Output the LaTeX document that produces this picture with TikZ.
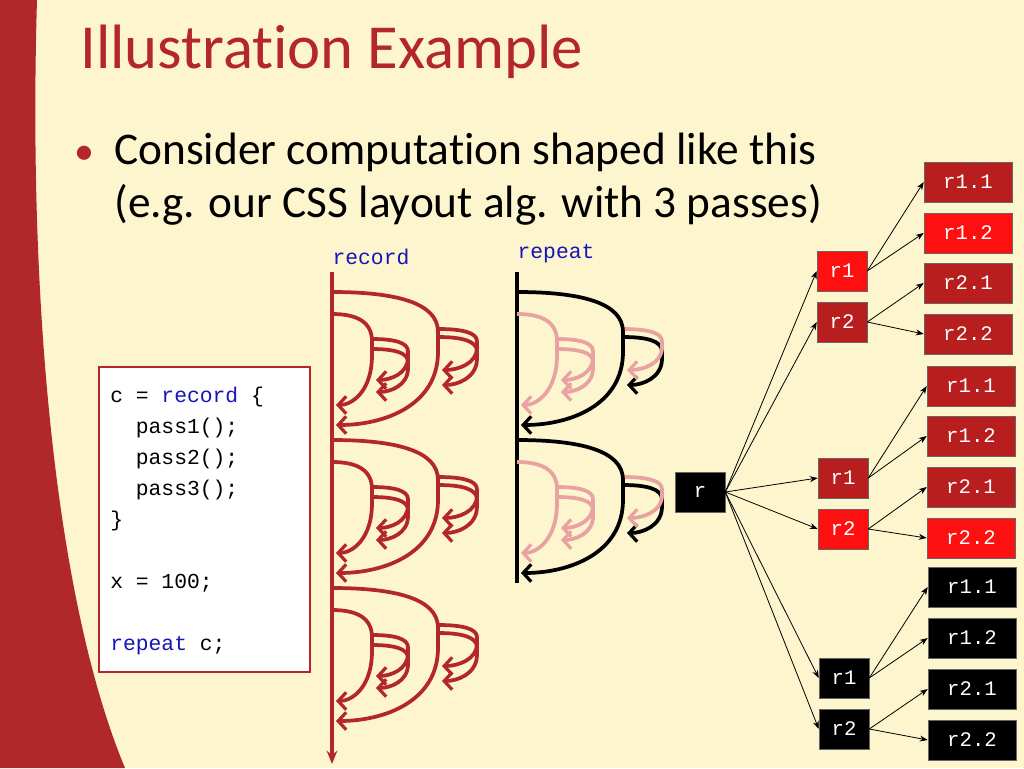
\documentclass[tikz,border=0pt]{standalone}
\usepackage{fontspec}
\setmainfont[Ligatures=NoCommon]{Carlito}
\setmonofont{Liberation Mono}
\usetikzlibrary{arrows.meta}
\definecolor{bg}{HTML}{FDF5CE}
\definecolor{band}{HTML}{B0282A}
\definecolor{rec}{HTML}{B3262B}
\definecolor{pinkc}{HTML}{E8A2A2}
\definecolor{codeblue}{HTML}{1515B8}
\definecolor{darkr}{HTML}{B81E1E}
\definecolor{brightr}{HTML}{FF1010}
\tikzset{
  dee/.style={line width=2.8pt, -{Straight Barb[length=6pt,width=13pt,line width=2.4pt]}},
  box/.style={minimum width=50pt*0.75, minimum height=40pt*0.75, inner sep=0pt, text=white, font=\ttfamily\fontsize{15.5}{15.5}\selectfont, draw=black!60, line width=0.4pt},
  leaf/.style={box, minimum width=88pt*0.75},
  dk/.style={fill=darkr}, br/.style={fill=brightr}, bk/.style={fill=black},
  edge/.style={-{Stealth[length=6pt,width=4.5pt]}, line width=0.6pt}
}
% D arc: style, x, y, w, h
\newcommand{\dee}[5]{\draw[dee,#1] (#2,#3) .. controls (#2+0.6*#4,#3) and (#2+#4,#3+0.08*#5) .. (#2+#4,#3+0.3*#5) -- (#2+#4,#3+0.45*#5) .. controls (#2+#4,#3+0.85*#5) and (#2+0.5*#4,#3+#5) .. (#2+4,#3+#5);}
\newcommand{\recblock}[6]{%
  \dee{#5}{#1+40}{#2+47}{36}{41}
  \dee{#5}{#1+40}{#2+57}{36}{43}
  \dee{#4}{#1}{#2+22}{40}{91}
  \dee{#6}{#1+106}{#2+45}{39}{48}
  \dee{#5}{#1+106}{#2+37}{39}{41}
  \dee{#3}{#1}{#2}{106}{133}
}
\begin{document}
\begin{tikzpicture}[x=0.75pt,y=-0.75pt]
\fill[bg] (0,0) rectangle (1024,768);
\useasboundingbox (0,0) rectangle (1024,768);
\fill[band] (0,0) -- (37,0) .. controls (28,300) and (55,600) .. (125,768) -- (0,768) -- cycle;
\node[anchor=base west, text=rec, font=\fontsize{47}{47}\selectfont, inner sep=0pt] (title) at (80,68) {Illustration Example};
\node[anchor=base west, text=rec, font=\fontsize{30}{30}\selectfont, inner sep=0pt] (bul) at (74,164) {•};
\node[anchor=base west, font=\fontsize{34}{34}\selectfont, inner sep=0pt] (l1) at (114,164) {Consider computation shaped like this};
\node[anchor=base west, font=\fontsize{34}{34}\selectfont, inner sep=0pt] (l2) at (114,217) {(e.g. our CSS layout alg. with 3 passes)};
% code box
\node[draw=rec, line width=1.5pt, fill=white, minimum width=211pt*0.75, minimum height=305pt*0.75, inner sep=0pt] (code) at (204.5,519.5) {};
\node[anchor=north west, align=left, inner sep=0pt, font=\ttfamily\fontsize{16}{23.2}\selectfont] (codetext) at (110,387) {c = \textcolor{codeblue}{record} \{\\
\ \ pass1();\\
\ \ pass2();\\
\ \ pass3();\\
\}\\
\strut\\
x = 100;\\
\strut\\
\textcolor{codeblue}{repeat} c;};
% labels
\node[text=codeblue, font=\ttfamily\fontsize{16}{16}\selectfont] (reclab) at (371,257) {record};
\node[text=codeblue, font=\ttfamily\fontsize{16}{16}\selectfont] (replab) at (556,254) {repeat};
% record spine
\coordinate (rs0) at (332,272); \coordinate (rs1) at (332,764);
\draw[rec, line width=2.6pt, -{Stealth[length=10pt,width=8pt]}] (rs0) -- (rs1);
\recblock{332}{292}{rec}{rec}{rec}{rec}
\recblock{332}{440}{rec}{rec}{rec}{rec}
\recblock{332}{588}{rec}{rec}{rec}{rec}
% repeat spine
\coordinate (ps0) at (517,272); \coordinate (ps1) at (517,583);
\draw[black, line width=3pt] (ps0) -- (ps1);
\recblock{517}{292}{black}{pinkc}{pinkc}{black}
\recblock{517}{440}{black}{pinkc}{pinkc}{black}
% tree
\node[box,bk] (r) at (700,492) {r};
\node[box,br] (a1) at (842,271) {r1};
\node[box,dk] (a2) at (842,322) {r2};
\node[leaf,dk] (a11) at (968,182) {r1.1};
\node[leaf,br] (a12) at (968,233) {r1.2};
\node[leaf,dk] (a21) at (968,283) {r2.1};
\node[leaf,dk] (a22) at (968,334) {r2.2};
\node[box,dk] (b1) at (843,478) {r1};
\node[box,br] (b2) at (843,529) {r2};
\node[leaf,dk] (b11) at (971,386) {r1.1};
\node[leaf,dk] (b12) at (971,436) {r1.2};
\node[leaf,dk] (b21) at (971,487) {r2.1};
\node[leaf,br] (b22) at (971,538) {r2.2};
\node[box,bk] (c1) at (844,678) {r1};
\node[box,bk] (c2) at (844,729) {r2};
\node[leaf,bk] (c11) at (972,587) {r1.1};
\node[leaf,bk] (c12) at (972,638) {r1.2};
\node[leaf,bk] (c21) at (972,689) {r2.1};
\node[leaf,bk] (c22) at (972,740) {r2.2};
\foreach \g in {a,b,c}{
  \draw[edge] (r.east) -- (\g1.west);
  \draw[edge] (r.east) -- (\g2.west);
  \draw[edge] (\g1.east) -- (\g11.west);
  \draw[edge] (\g1.east) -- (\g12.west);
  \draw[edge] (\g2.east) -- (\g21.west);
  \draw[edge] (\g2.east) -- (\g22.west);
}
\end{tikzpicture}
\end{document}
